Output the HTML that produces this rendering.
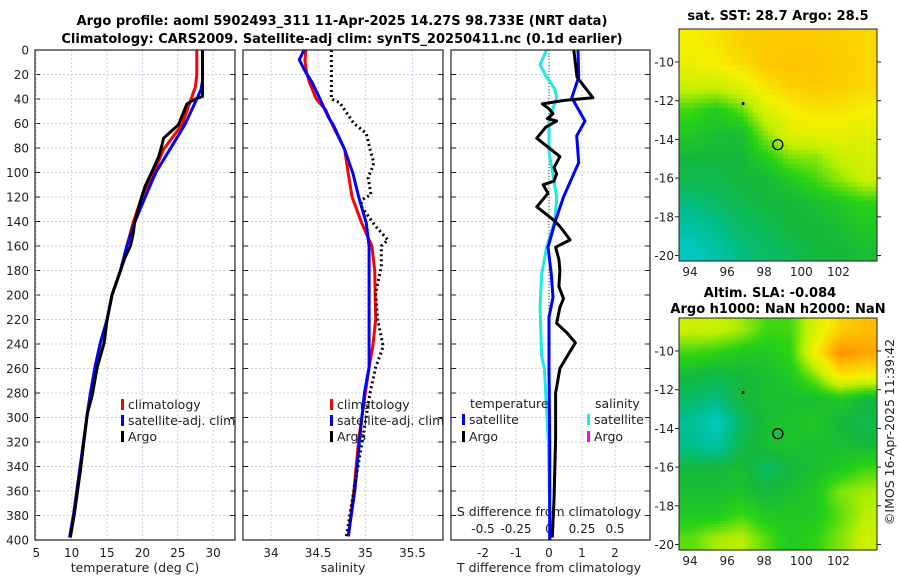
<!DOCTYPE html>
<html><head><meta charset="utf-8"><style>
body{margin:0;background:#fff;}
svg{display:block;font-family:"DejaVu Sans","Liberation Sans",sans-serif;}
</style></head><body>
<svg id="fig" width="900" height="580" xmlns="http://www.w3.org/2000/svg">
<defs>
<clipPath id="clipTop"><rect x="679" y="29" width="198" height="232"/></clipPath>
<clipPath id="clipBot"><rect x="679" y="318" width="198" height="233"/></clipPath>
</defs>
<text x="342" y="25" text-anchor="middle" font-size="13" font-weight="bold">Argo profile: aoml 5902493_311 11-Apr-2025 14.27S 98.733E (NRT data)</text>
<text x="342" y="43" text-anchor="middle" font-size="13" font-weight="bold">Climatology: CARS2009. Satellite-adj clim: synTS_20250411.nc (0.1d earlier)</text>
<text x="778" y="20" text-anchor="middle" font-size="13" font-weight="bold">sat. SST: 28.7 Argo: 28.5</text>
<text x="770" y="297" text-anchor="middle" font-size="13" font-weight="bold">Altim. SLA: -0.084</text>
<text x="778" y="313" text-anchor="middle" font-size="13" font-weight="bold">Argo h1000: NaN h2000: NaN</text>
<text transform="translate(894,432) rotate(-90)" text-anchor="middle" font-size="12.5" fill="#222">©IMOS 16-Apr-2025 11:39:42</text>
<g id="g"></g>
</svg>
<script>
// ---- data ----
const depthTicks=[0,20,40,60,80,100,120,140,160,180,200,220,240,260,280,300,320,340,360,380,400];
const tempTicks=[5,10,15,20,25,30];
const salTicks=[34,34.5,35,35.5];
const tdiffTicks=[-2,-1,0,1,2];
const sdiffTicks=[-0.5,-0.25,0,0.25,0.5];
const sdiffLabels=["-0.5","-0.25","0","0.25","0.5"];

const tClimDepth=[0,20,30,43,61,81,100,120,141,160,180,200,220,239,259,282,297,340,378,398];
const tClimVal=[27.7,27.7,27.5,26.7,25.6,23.0,21.6,19.9,18.7,17.8,16.9,15.7,15.0,14.1,13.3,12.6,12.2,11.2,10.3,9.7];
const tSatDepth=[0,25,32,40,61,81,100,120,141,160,180,200,220,239,259,282,297,340,378,398];
const tSatVal=[28.5,28.5,28.3,27.7,26.0,23.9,21.9,20.4,18.9,17.8,16.9,15.7,15.0,14.05,13.3,12.6,12.2,11.2,10.3,9.7];
const tArgoDepth=[0,38,40,44,61,72,79,87,100,111,120,141,150,160,170,180,200,220,239,259,282,297,340,378,398];
const tArgoVal=[28.5,28.5,27.5,26.3,25.1,23.0,22.7,22.3,21.3,20.4,19.9,18.9,18.7,18.3,17.5,16.9,15.7,15.0,14.6,13.6,12.9,12.2,11.3,10.4,9.8];

const sClimDepth=[0,9,19,27,40,49,61,81,101,120,141,160,180,220,242,259,280,318,359,397];
const sClimVal=[34.37,34.36,34.38,34.41,34.48,34.58,34.65,34.78,34.82,34.86,34.96,35.07,35.10,35.11,35.08,35.04,35.0,34.93,34.88,34.82];
const sSatDepth=[0,8,17,27,40,55,61,81,101,120,141,160,180,220,242,259,280,318,359,397];
const sSatVal=[34.35,34.30,34.36,34.44,34.52,34.61,34.66,34.78,34.87,34.93,35.01,35.04,35.04,35.04,35.04,35.04,34.99,34.94,34.89,34.82];
const sArgoDepth=[0,40,43,51,60,68,81,92,95,104,118,122,127,144,155,160,177,198,220,242,259,280,318,359,397];
const sArgoVal=[34.64,34.64,34.73,34.80,34.88,35.01,35.05,35.09,35.08,35.03,35.06,34.97,34.95,35.11,35.24,35.17,35.17,35.11,35.13,35.19,35.11,35.05,34.97,34.88,34.80];

const dTSatDepth=[0,22,39,58,70,92,101,120,139,161,183,202,218,260,320,400];
const dTSatVal=[0.88,0.9,0.69,1.09,0.84,0.9,0.75,0.44,0.2,-0.03,0.07,0.12,0.0,0.0,0.02,0.02];
const dTArgoDepth=[0,22,39,41,44,48,52,56,58,63,72,87,96,101,107,110,117,128,139,144,155,161,171,180,193,203,210,223,231,239,250,260,280,318,367,398];
const dTArgoVal=[0.75,0.85,1.33,0.5,-0.2,0.0,0.12,-0.05,0.23,-0.1,-0.37,0.33,0.15,0.23,0.15,-0.18,-0.03,-0.37,0.15,0.33,0.64,0.2,0.3,0.33,0.3,0.44,0.33,0.23,0.55,0.8,0.55,0.33,0.2,0.2,0.15,0.1];
const dSSatDepth=[0,12,22,32,39,57,83,120,139,161,183,210,250,260,269,320,400];
const dSSatVal=[-0.018,-0.068,-0.018,0.045,0.058,0.0,0.0,0.058,0.045,-0.018,-0.055,-0.068,-0.055,-0.035,-0.03,-0.005,0.01];

const mapLonTicks=[94,96,98,100,102];
const mapLatTicks=[-10,-12,-14,-16,-18,-20];
const sstGrid=[
[0.8,0.82,0.85,0.86,0.86,0.86,0.85,0.84],
[0.78,0.8,0.83,0.86,0.87,0.87,0.86,0.84],
[0.72,0.72,0.76,0.82,0.85,0.86,0.85,0.84],
[0.6,0.56,0.62,0.75,0.8,0.82,0.82,0.8],
[0.55,0.52,0.52,0.66,0.76,0.78,0.78,0.76],
[0.5,0.5,0.5,0.57,0.65,0.66,0.72,0.74],
[0.48,0.48,0.5,0.5,0.55,0.6,0.66,0.72],
[0.42,0.45,0.48,0.5,0.5,0.52,0.55,0.58],
[0.36,0.4,0.45,0.47,0.5,0.5,0.52,0.55],
[0.3,0.35,0.42,0.45,0.47,0.5,0.5,0.52]];
const slaGrid=[
[0.72,0.72,0.68,0.6,0.6,0.75,0.85,0.88],
[0.6,0.58,0.55,0.55,0.58,0.8,0.95,0.92],
[0.5,0.48,0.5,0.52,0.55,0.65,0.82,0.8],
[0.45,0.42,0.5,0.52,0.52,0.52,0.55,0.5],
[0.38,0.3,0.45,0.52,0.53,0.55,0.5,0.48],
[0.4,0.36,0.48,0.52,0.53,0.52,0.52,0.5],
[0.5,0.5,0.52,0.45,0.5,0.52,0.55,0.6],
[0.52,0.52,0.53,0.5,0.52,0.55,0.65,0.68],
[0.55,0.55,0.6,0.55,0.55,0.55,0.62,0.7],
[0.62,0.68,0.7,0.62,0.55,0.58,0.65,0.72]];
const argoLon=98.733, argoLat=-14.27;

// ---- helpers ----
const NS="http://www.w3.org/2000/svg";
const G=document.getElementById('g');
function mk(tag,attrs,parent){const e=document.createElementNS(NS,tag);for(const k in attrs)e.setAttribute(k,attrs[k]);(parent||G).appendChild(e);return e;}
const PT=50,PB=540;
const yD=d=>PT+d*(PB-PT)/400;
const xT=t=>71.7+(t-10)*7.07;
const xS=s=>271+(s-34)*94.3;
const xDT=t=>549+t*33;
const xDS=s=>549+s*132;
const panels=[{x0:35,x1:235,name:'temperature-panel'},{x0:243,x1:443,name:'salinity-panel'},{x0:451,x1:650,name:'difference-panel'}];

function grid(p,xs){
  const gp=mk('g',{});
  
  
  depthTicks.forEach(d=>{if(d>0&&d<400){mk('line',{x1:p.x0,x2:p.x1,y1:yD(d),y2:yD(d),stroke:'#c9cfe6','stroke-width':1,'stroke-dasharray':'2,2'},gp);
    mk('line',{x1:p.x0,x2:p.x0+5,y1:yD(d),y2:yD(d),stroke:'#222'},gp);mk('line',{x1:p.x1-5,x2:p.x1,y1:yD(d),y2:yD(d),stroke:'#222'},gp);}});
  xs.forEach(x=>{if(x>p.x0+1&&x<p.x1-1)mk('line',{x1:x,x2:x,y1:PT,y2:PB,stroke:'#c9cfe6','stroke-width':1,'stroke-dasharray':'2,2'},gp);});
}
function frame(p){const r=mk('rect',{x:p.x0,y:PT,width:p.x1-p.x0,height:PB-PT,fill:'none',stroke:'#222','stroke-width':1.2});
  
  }
function line(depths,vals,xf,color,name,dash,w){
  const pts=depths.map((d,i)=>xf(vals[i]).toFixed(1)+','+yD(d).toFixed(1)).join(' ');
  const a={points:pts,fill:'none',stroke:color,'stroke-width':w||3,'stroke-linejoin':'round'};
  if(dash)a['stroke-dasharray']=dash;
  const e=mk('polyline',a);
  
  
}
function txt(x,y,s,anchor,size,name,extra){const a={x:x,y:y,'text-anchor':anchor||'start','font-size':size||12,fill:'#222'};
  if(extra)for(const k in extra)a[k]=extra[k];
  const e=mk('text',a);e.textContent=s;
  
  return e;}

grid(panels[0],tempTicks.map(xT));
grid(panels[1],salTicks.map(xS));
grid(panels[2],tdiffTicks.map(xDT));
mk('line',{x1:xDT(0),x2:xDT(0),y1:PT,y2:PB,stroke:'#2a5a2a','stroke-width':1,'stroke-dasharray':'1,2'});

depthTicks.forEach(d=>txt(29,yD(d)+4.5,String(d),'end',12,'depth-tick-label'));
tempTicks.forEach(t=>txt(xT(t),557,String(t),'middle',12,'temp-tick-label'));
salTicks.forEach(s=>txt(xS(s),557,String(s),'middle',12,'sal-tick-label'));
tdiffTicks.forEach(t=>txt(xDT(t),557,String(t),'middle',12,'tdiff-tick-label'));
sdiffTicks.forEach((s,i)=>txt(xDS(s),533,sdiffLabels[i],'middle',12,'sdiff-tick-label'));
txt(135,572,'temperature (deg C)','middle',12.5,'temp-axis-title');
txt(343,572,'salinity','middle',12.5,'sal-axis-title');
txt(549,572,'T difference from climatology','middle',12.5,'tdiff-axis-title');
txt(549,516,'S difference from climatology','middle',12.5,'sdiff-axis-title');

line(tClimDepth,tClimVal,xT,'#f00','temp-climatology-line');
line(tSatDepth,tSatVal,xT,'#00f','temp-satellite-line');
line(tArgoDepth,tArgoVal,xT,'#000','temp-argo-line');
line(sClimDepth,sClimVal,xS,'#f00','sal-climatology-line');
line(sSatDepth,sSatVal,xS,'#00f','sal-satellite-line');
line(sArgoDepth,sArgoVal,xS,'#000','sal-argo-line','2,3');
line(dSSatDepth,dSSatVal,xDS,'#1ee8e8','sdiff-satellite-line');
line(dTSatDepth,dTSatVal,xDT,'#00f','tdiff-satellite-line');
line(dTArgoDepth,dTArgoVal,xDT,'#000','tdiff-argo-line');
panels.forEach(frame);

function leg(x,y,color,label,name){
  const r=mk('rect',{x:x,y:y-10,width:3,height:11,fill:color});
  
  
  txt(x+7,y,label,'start',12.5,name);
}
leg(121,409,'#f00','climatology','legend-climatology');
leg(121,425,'#00f','satellite-adj. clim','legend-satellite-adj');
leg(121,441,'#000','Argo','legend-argo');
leg(330,409,'#f00','climatology','legend-sal-climatology');
leg(330,425,'#00f','satellite-adj. clim','legend-sal-satellite-adj');
leg(330,441,'#000','Argo','legend-sal-argo');
txt(470,408,'temperature','start',12.5,'legend-temperature-heading');
txt(595,408,'salinity','start',12.5,'legend-salinity-heading');
leg(462,424,'#00f','satellite','legend-tdiff-satellite');
leg(462,441,'#000','Argo','legend-tdiff-argo');
leg(587,424,'#1ee8e8','satellite','legend-sdiff-satellite');
leg(587,441,'#f0f','Argo','legend-sdiff-argo');

// maps
const stops=[[0.25,[0,205,215]],[0.4,[0,190,140]],[0.5,[20,185,60]],[0.58,[40,210,20]],[0.7,[190,240,0]],[0.8,[245,240,0]],[0.88,[255,190,0]],[1.0,[255,110,0]]];
function cmap(v){if(v<=stops[0][0])return 'rgb('+stops[0][1]+')';
  for(let i=1;i<stops.length;i++){if(v<=stops[i][0]){const a=stops[i-1],b=stops[i],f=(v-a[0])/(b[0]-a[0]);
    return 'rgb('+a[1].map((c,j)=>Math.round(c+(b[1][j]-c)*f)).join(',')+')';}}
  return 'rgb('+stops[stops.length-1][1]+')';}
function sample(gridV,r,c){ // bilinear at fractional cell coords
  const rows=gridV.length,cols=gridV[0].length;
  r=Math.max(0,Math.min(rows-1,r));c=Math.max(0,Math.min(cols-1,c));
  const r0=Math.floor(r),c0=Math.floor(c),r1=Math.min(rows-1,r0+1),c1=Math.min(cols-1,c0+1),fr=r-r0,fc=c-c0;
  return gridV[r0][c0]*(1-fr)*(1-fc)+gridV[r0][c1]*(1-fr)*fc+gridV[r1][c0]*fr*(1-fc)+gridV[r1][c1]*fr*fc;
}
function drawMap(gridV,top,name,sub,clip){
  const L=679,R=877,B=top+232;
  const lonX=lo=>690+(lo-94)*18.55;
  const latY=la=>top+33+(-10-la)*19.35;
  const cg=mk('g',{'clip-path':'url(#'+clip+')'});
  
  
  const rows=gridV.length,cols=gridV[0].length,cw=(R-L)/cols,ch=(B-top)/rows;
  const nr=rows*sub,nc=cols*sub,sw=(R-L)/nc,sh=(B-top)/nr;
  for(let i=0;i<nr;i++)for(let j=0;j<nc;j++){
    const v=sample(gridV,(i+0.5)/sub-0.5,(j+0.5)/sub-0.5);
    const c=mk('rect',{x:(L+j*sw).toFixed(2),y:(top+i*sh).toFixed(2),width:(sw+0.6).toFixed(2),height:(sh+0.6).toFixed(2),fill:cmap(v)},cg);
    
    
  }
  const m=mk('circle',{cx:lonX(argoLon),cy:latY(argoLat),r:5,fill:'none',stroke:'#000','stroke-width':1.3});
  
  
  mk('rect',{x:lonX(96.85)-1,y:latY(-12.15)-1.5,width:2.5,height:3,fill:'#000'});
  const f=mk('rect',{x:L,y:top,width:R-L,height:B-top,fill:'none',stroke:'#222','stroke-width':1});
  
  
  mapLatTicks.forEach(la=>{mk('line',{x1:R,x2:R+4,y1:latY(la),y2:latY(la),stroke:'#222'});
    mk('line',{x1:L-4,x2:L,y1:latY(la),y2:latY(la),stroke:'#222'});
    txt(L-5,latY(la)+4.5,String(la),'end',12,name+'-lat-label');});
  mapLonTicks.forEach(lo=>txt(lonX(lo),B+15,String(lo),'middle',12,name+'-lon-label'));
}
drawMap(sstGrid,29,'sst-map',5,'clipTop');
drawMap(slaGrid,318,'sla-map',8,'clipBot');
</script>
</body></html>
